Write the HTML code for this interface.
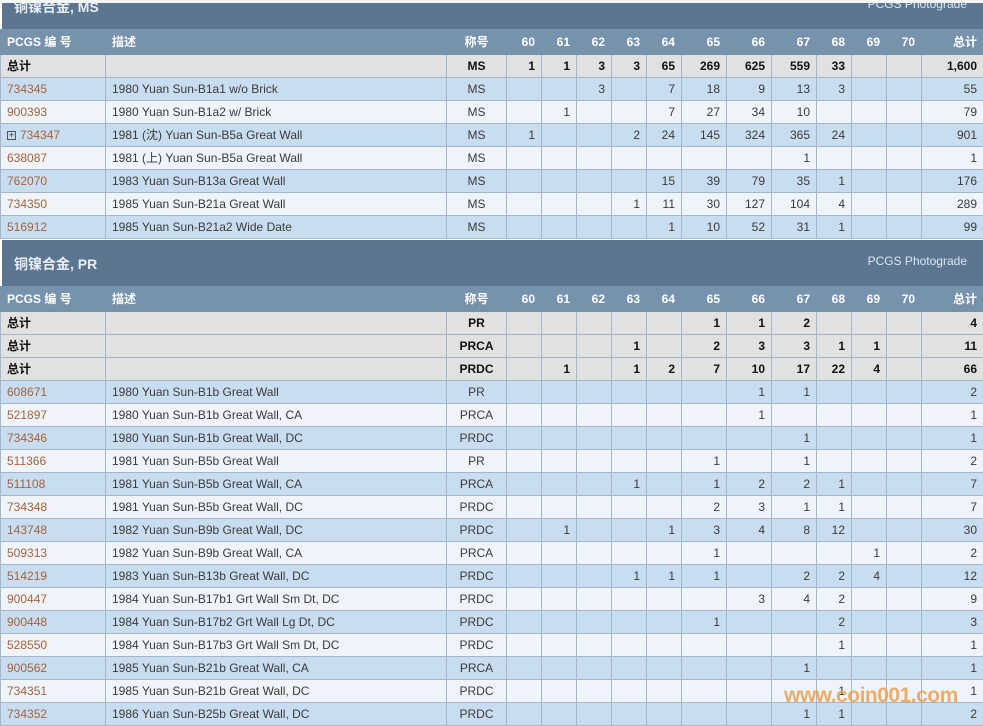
<!DOCTYPE html>
<html><head><meta charset="utf-8"><style>
*{margin:0;padding:0;box-sizing:border-box}
body{width:983px;height:724px;overflow:hidden;background:#fff;font-family:"Liberation Sans","Noto Sans CJK SC",sans-serif;font-size:12px;color:#3a3a3a;position:relative}
.sec{position:absolute;left:0;width:983px}
.title{height:46px;background:#5c7691;color:#e8eef5;position:relative;border-left:2px solid #fff}
.title .t{position:absolute;left:12px;top:14px;font-size:14px;font-weight:bold}
.title .p{position:absolute;right:16px;top:14px;font-size:12px;color:#dde6ef}
table{border-collapse:collapse;table-layout:fixed;width:983px}
td,th{height:23px;border:1px solid #a4b6c8;padding:0 6px;text-align:right;white-space:nowrap;overflow:hidden;line-height:14px}
th{background:#7692ad;color:#fff;font-weight:bold;border-color:#7692ad;height:25px}
td:nth-child(1),td:nth-child(2),th:nth-child(1),th:nth-child(2){text-align:left}
td:nth-child(3),th:nth-child(3){text-align:center}
tr.tot td{background:#e1e1e1;font-weight:bold;color:#111}
tr.a td{background:#c9ddf1}
tr.b td{background:#eef4fa}
td.l{color:#a5623a}
.plus{display:inline-block;width:9px;height:9px;border:1px solid #555;font-size:9px;line-height:7px;text-align:center;margin-right:4px;color:#333;vertical-align:middle}
.wm{position:absolute;left:784px;top:684px;font-size:21px;font-weight:bold;color:#f0a050;opacity:.85;letter-spacing:-0.5px}
</style></head><body>
<div class="sec" style="top:-17px">
<div class="title"><span class="t">铜镍合金, MS</span><span class="p">PCGS Photograde</span></div>
<table>
<colgroup><col style="width:105px"><col style="width:341px"><col style="width:60px"><col style="width:35px"><col style="width:35px"><col style="width:35px"><col style="width:35px"><col style="width:35px"><col style="width:45px"><col style="width:45px"><col style="width:45px"><col style="width:35px"><col style="width:35px"><col style="width:35px"><col style="width:62px"></colgroup>
<tr><th>PCGS 编 号</th><th>描述</th><th>称号</th><th>60</th><th>61</th><th>62</th><th>63</th><th>64</th><th>65</th><th>66</th><th>67</th><th>68</th><th>69</th><th>70</th><th>总计</th></tr>
<tr class="tot"><td>总计</td><td></td><td>MS</td><td>1</td><td>1</td><td>3</td><td>3</td><td>65</td><td>269</td><td>625</td><td>559</td><td>33</td><td></td><td></td><td>1,600</td></tr>
<tr class="a"><td class="l">734345</td><td>1980 Yuan Sun-B1a1 w/o Brick</td><td>MS</td><td></td><td></td><td>3</td><td></td><td>7</td><td>18</td><td>9</td><td>13</td><td>3</td><td></td><td></td><td>55</td></tr>
<tr class="b"><td class="l">900393</td><td>1980 Yuan Sun-B1a2 w/ Brick</td><td>MS</td><td></td><td>1</td><td></td><td></td><td>7</td><td>27</td><td>34</td><td>10</td><td></td><td></td><td></td><td>79</td></tr>
<tr class="a"><td class="l"><span class="plus">+</span>734347</td><td>1981 (沈) Yuan Sun-B5a Great Wall</td><td>MS</td><td>1</td><td></td><td></td><td>2</td><td>24</td><td>145</td><td>324</td><td>365</td><td>24</td><td></td><td></td><td>901</td></tr>
<tr class="b"><td class="l">638087</td><td>1981 (上) Yuan Sun-B5a Great Wall</td><td>MS</td><td></td><td></td><td></td><td></td><td></td><td></td><td></td><td>1</td><td></td><td></td><td></td><td>1</td></tr>
<tr class="a"><td class="l">762070</td><td>1983 Yuan Sun-B13a Great Wall</td><td>MS</td><td></td><td></td><td></td><td></td><td>15</td><td>39</td><td>79</td><td>35</td><td>1</td><td></td><td></td><td>176</td></tr>
<tr class="b"><td class="l">734350</td><td>1985 Yuan Sun-B21a Great Wall</td><td>MS</td><td></td><td></td><td></td><td>1</td><td>11</td><td>30</td><td>127</td><td>104</td><td>4</td><td></td><td></td><td>289</td></tr>
<tr class="a"><td class="l">516912</td><td>1985 Yuan Sun-B21a2 Wide Date</td><td>MS</td><td></td><td></td><td></td><td></td><td>1</td><td>10</td><td>52</td><td>31</td><td>1</td><td></td><td></td><td>99</td></tr>
</table>
</div>
<div class="sec" style="top:240px">
<div class="title"><span class="t">铜镍合金, PR</span><span class="p">PCGS Photograde</span></div>
<table>
<colgroup><col style="width:105px"><col style="width:341px"><col style="width:60px"><col style="width:35px"><col style="width:35px"><col style="width:35px"><col style="width:35px"><col style="width:35px"><col style="width:45px"><col style="width:45px"><col style="width:45px"><col style="width:35px"><col style="width:35px"><col style="width:35px"><col style="width:62px"></colgroup>
<tr><th>PCGS 编 号</th><th>描述</th><th>称号</th><th>60</th><th>61</th><th>62</th><th>63</th><th>64</th><th>65</th><th>66</th><th>67</th><th>68</th><th>69</th><th>70</th><th>总计</th></tr>
<tr class="tot"><td>总计</td><td></td><td>PR</td><td></td><td></td><td></td><td></td><td></td><td>1</td><td>1</td><td>2</td><td></td><td></td><td></td><td>4</td></tr>
<tr class="tot"><td>总计</td><td></td><td>PRCA</td><td></td><td></td><td></td><td>1</td><td></td><td>2</td><td>3</td><td>3</td><td>1</td><td>1</td><td></td><td>11</td></tr>
<tr class="tot"><td>总计</td><td></td><td>PRDC</td><td></td><td>1</td><td></td><td>1</td><td>2</td><td>7</td><td>10</td><td>17</td><td>22</td><td>4</td><td></td><td>66</td></tr>
<tr class="a"><td class="l">608671</td><td>1980 Yuan Sun-B1b Great Wall</td><td>PR</td><td></td><td></td><td></td><td></td><td></td><td></td><td>1</td><td>1</td><td></td><td></td><td></td><td>2</td></tr>
<tr class="b"><td class="l">521897</td><td>1980 Yuan Sun-B1b Great Wall, CA</td><td>PRCA</td><td></td><td></td><td></td><td></td><td></td><td></td><td>1</td><td></td><td></td><td></td><td></td><td>1</td></tr>
<tr class="a"><td class="l">734346</td><td>1980 Yuan Sun-B1b Great Wall, DC</td><td>PRDC</td><td></td><td></td><td></td><td></td><td></td><td></td><td></td><td>1</td><td></td><td></td><td></td><td>1</td></tr>
<tr class="b"><td class="l">511366</td><td>1981 Yuan Sun-B5b Great Wall</td><td>PR</td><td></td><td></td><td></td><td></td><td></td><td>1</td><td></td><td>1</td><td></td><td></td><td></td><td>2</td></tr>
<tr class="a"><td class="l">511108</td><td>1981 Yuan Sun-B5b Great Wall, CA</td><td>PRCA</td><td></td><td></td><td></td><td>1</td><td></td><td>1</td><td>2</td><td>2</td><td>1</td><td></td><td></td><td>7</td></tr>
<tr class="b"><td class="l">734348</td><td>1981 Yuan Sun-B5b Great Wall, DC</td><td>PRDC</td><td></td><td></td><td></td><td></td><td></td><td>2</td><td>3</td><td>1</td><td>1</td><td></td><td></td><td>7</td></tr>
<tr class="a"><td class="l">143748</td><td>1982 Yuan Sun-B9b Great Wall, DC</td><td>PRDC</td><td></td><td>1</td><td></td><td></td><td>1</td><td>3</td><td>4</td><td>8</td><td>12</td><td></td><td></td><td>30</td></tr>
<tr class="b"><td class="l">509313</td><td>1982 Yuan Sun-B9b Great Wall, CA</td><td>PRCA</td><td></td><td></td><td></td><td></td><td></td><td>1</td><td></td><td></td><td></td><td>1</td><td></td><td>2</td></tr>
<tr class="a"><td class="l">514219</td><td>1983 Yuan Sun-B13b Great Wall, DC</td><td>PRDC</td><td></td><td></td><td></td><td>1</td><td>1</td><td>1</td><td></td><td>2</td><td>2</td><td>4</td><td></td><td>12</td></tr>
<tr class="b"><td class="l">900447</td><td>1984 Yuan Sun-B17b1 Grt Wall Sm Dt, DC</td><td>PRDC</td><td></td><td></td><td></td><td></td><td></td><td></td><td>3</td><td>4</td><td>2</td><td></td><td></td><td>9</td></tr>
<tr class="a"><td class="l">900448</td><td>1984 Yuan Sun-B17b2 Grt Wall Lg Dt, DC</td><td>PRDC</td><td></td><td></td><td></td><td></td><td></td><td>1</td><td></td><td></td><td>2</td><td></td><td></td><td>3</td></tr>
<tr class="b"><td class="l">528550</td><td>1984 Yuan Sun-B17b3 Grt Wall Sm Dt, DC</td><td>PRDC</td><td></td><td></td><td></td><td></td><td></td><td></td><td></td><td></td><td>1</td><td></td><td></td><td>1</td></tr>
<tr class="a"><td class="l">900562</td><td>1985 Yuan Sun-B21b Great Wall, CA</td><td>PRCA</td><td></td><td></td><td></td><td></td><td></td><td></td><td></td><td>1</td><td></td><td></td><td></td><td>1</td></tr>
<tr class="b"><td class="l">734351</td><td>1985 Yuan Sun-B21b Great Wall, DC</td><td>PRDC</td><td></td><td></td><td></td><td></td><td></td><td></td><td></td><td></td><td>1</td><td></td><td></td><td>1</td></tr>
<tr class="a"><td class="l">734352</td><td>1986 Yuan Sun-B25b Great Wall, DC</td><td>PRDC</td><td></td><td></td><td></td><td></td><td></td><td></td><td></td><td>1</td><td>1</td><td></td><td></td><td>2</td></tr>
</table>
</div>
<div style="position:absolute;left:0;top:0;width:983px;height:3px;background:#f4f6f8"></div>
<div class="wm">www.coin001.com</div>
</body></html>
